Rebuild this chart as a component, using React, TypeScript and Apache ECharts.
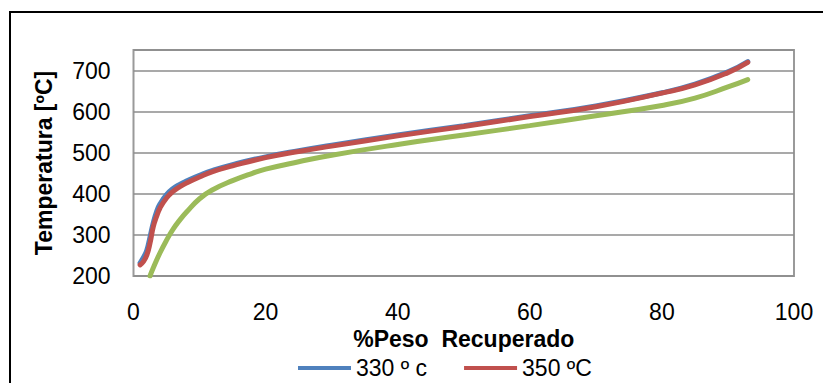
import React, { useEffect, useRef } from "react";
import * as echarts from "echarts";

const pesoAzul = [1, 1.5, 2, 2.5, 3, 3.5, 4, 5, 6, 7, 8, 10, 12, 15, 20, 25, 30, 40, 50, 60, 70, 80, 85, 90, 93];
const tempAzul = [232, 245, 262, 295, 330, 357, 375, 398, 413, 423, 431, 445, 457, 471, 490, 505, 518, 543, 566, 590, 614, 646, 667, 697, 722];

const pesoRojo = [1, 1.5, 2, 2.5, 3, 3.5, 4, 5, 6, 7, 8, 10, 12, 15, 20, 25, 30, 40, 50, 60, 70, 80, 85, 90, 93];
const tempRojo = [227, 235, 250, 280, 320, 345, 365, 390, 406, 417, 426, 441, 454, 468, 488, 503, 516, 541, 564, 588, 612, 645, 665, 695, 720];

const pesoVerde = [2.5, 3, 4, 5, 6, 7, 8, 10, 12, 15, 18, 20, 25, 30, 40, 50, 60, 70, 80, 85, 90, 93];
const tempVerde = [200, 220, 256, 287, 314, 336, 355, 388, 410, 432, 450, 460, 478, 494, 520, 543, 566, 590, 615, 633, 660, 678];

const serieNombres = ["330 º c", "350 ºC", "Serie 3"];
const xTitulo = "%Peso  Recuperado";
const yTitulo = "Temperatura [ºC]";

const pares = (xs: number[], ys: number[]) => xs.map((x, i) => [x, ys[i]]);

export default function App() {
  const ref = useRef<HTMLDivElement>(null);
  useEffect(() => {
    if (!ref.current) return;
    const chart = echarts.init(ref.current, undefined, { renderer: "svg" });
    const font = "Liberation Sans, Arial, sans-serif";
    chart.setOption({
      animation: false,
      backgroundColor: "#ffffff",
      textStyle: { fontFamily: font },
      graphic: [
        {
          type: "rect",
          shape: { x: 10, y: 12, width: 900, height: 500 },
          style: { fill: "none", stroke: "#000", lineWidth: 2 },
          z: 100,
        },
      ],
      grid: {
        left: 133.5,
        right: 29,
        top: 50,
        bottom: 107,
        show: true,
        borderColor: "#9a9a9a",
        borderWidth: 2,
        backgroundColor: "transparent",
      },
      legend: {
        data: [serieNombres[0], serieNombres[1]],
        left: 298,
        top: 356,
        padding: 0,
        icon: "rect",
        itemWidth: 53,
        itemHeight: 4,
        itemGap: 37,
        textStyle: { fontFamily: font, fontSize: 23, color: "#000", lineHeight: 24 },
      },
      xAxis: {
        type: "value",
        min: 0,
        max: 100,
        interval: 20,
        name: xTitulo,
        nameLocation: "middle",
        nameGap: 42,
        nameTextStyle: { fontFamily: font, fontSize: 23, fontWeight: "bold", color: "#000" },
        axisLine: { show: false },
        axisTick: { show: false },
        splitLine: { show: false },
        axisLabel: { margin: 24, fontFamily: font, fontSize: 23, color: "#000" },
      },
      yAxis: {
        type: "value",
        min: 200,
        max: 750,
        interval: 100,
        name: yTitulo,
        nameLocation: "middle",
        nameGap: 78,
        nameTextStyle: { fontFamily: font, fontSize: 23, fontWeight: "bold", color: "#000" },
        axisLine: { show: false },
        axisTick: { show: false },
        splitLine: { show: true, lineStyle: { color: "#8c8c8c", width: 1.5 } },
        axisLabel: {
          margin: 23,
          fontFamily: font,
          fontSize: 23,
          color: "#000",
          formatter: (v: number) => (v > 700 ? "" : String(v)),
        },
      },
      series: [
        {
          name: serieNombres[0],
          type: "line",
          data: pares(pesoAzul, tempAzul),
          smooth: true,
          showSymbol: false,
          lineStyle: { color: "#4F81BD", width: 5, cap: "round" },
          itemStyle: { color: "#4F81BD" },
          z: 2,
        },
        {
          name: serieNombres[1],
          type: "line",
          data: pares(pesoRojo, tempRojo),
          smooth: true,
          showSymbol: false,
          lineStyle: { color: "#C0504D", width: 5, cap: "round" },
          itemStyle: { color: "#C0504D" },
          z: 3,
        },
        {
          name: serieNombres[2],
          type: "line",
          data: pares(pesoVerde, tempVerde),
          smooth: true,
          showSymbol: false,
          lineStyle: { color: "#9BBB59", width: 5, cap: "round" },
          itemStyle: { color: "#9BBB59" },
          z: 2,
        },
      ],
    });
    return () => chart.dispose();
  }, []);
  return (
    <div
      ref={ref}
      style={{ position: "absolute", left: 0, top: 0, width: 823, height: 383 }}
    />
  );
}
